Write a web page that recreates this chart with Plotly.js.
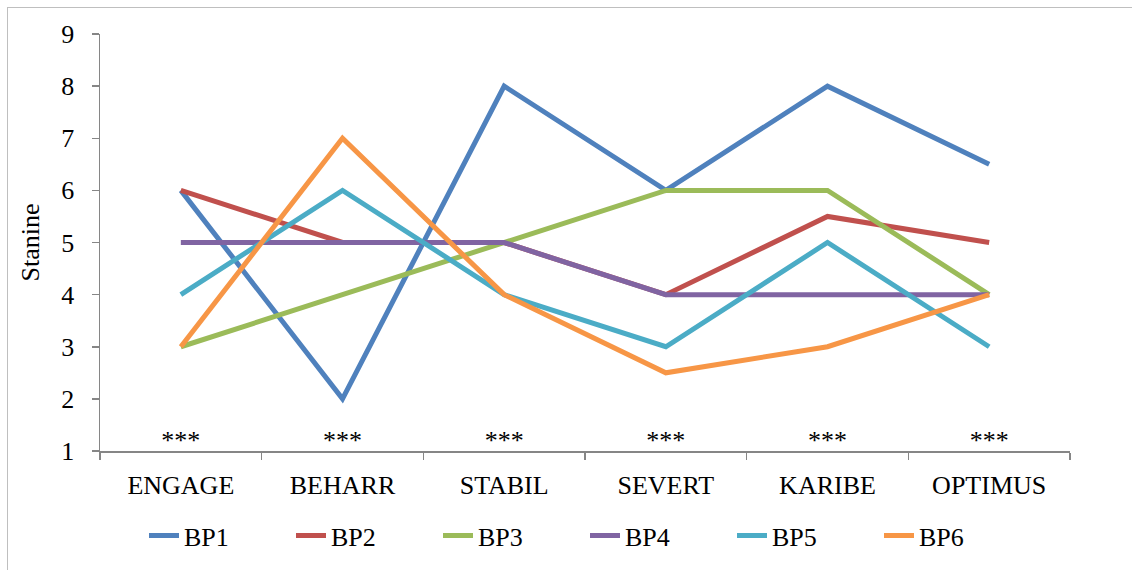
<!DOCTYPE html>
<html>
<head>
<meta charset="utf-8">
<script src="https://cdn.plot.ly/plotly-3.0.1.min.js"></script>
<style>
html,body{margin:0;padding:0;background:#fff;}
#wrap{position:relative;width:1132px;height:570px;overflow:hidden;}
#frame{position:absolute;left:7px;top:7px;width:1140px;height:580px;border:1.5px solid #bfbfbf;box-sizing:border-box;pointer-events:none;}
#chart{position:absolute;left:0;top:0;width:1132px;height:570px;}
</style>
</head>
<body>
<div id="wrap"><div id="chart"></div><div id="frame"></div></div>
<script>
var categories = ["ENGAGE", "BEHARR", "STABIL", "SEVERT", "KARIBE", "OPTIMUS"];
var BP1 = [6, 2, 8, 6, 8, 6.5];
var BP2 = [6, 5, 5, 4, 5.5, 5];
var BP3 = [3, 4, 5, 6, 6, 4];
var BP4 = [5, 5, 5, 4, 4, 4];
var BP5 = [4, 6, 4, 3, 5, 3];
var BP6 = [3, 7, 4, 2.5, 3, 4];
var seriesNames = ["BP1", "BP2", "BP3", "BP4", "BP5", "BP6"];
var starLabels = ["***", "***", "***", "***", "***", "***"];
var starLevel = [1.17, 1.17, 1.17, 1.17, 1.17, 1.17];
var yTicks = [1, 2, 3, 4, 5, 6, 7, 8, 9];

var colors = ["#4F81BD", "#C0504D", "#9BBB59", "#8064A2", "#4BACC6", "#F79646"];
var allSeries = [BP1, BP2, BP3, BP4, BP5, BP6];
var font = "Liberation Serif";

var traces = allSeries.map(function (vals, i) {
  return {
    x: categories, y: vals, type: "scatter", mode: "lines",
    name: seriesNames[i],
    line: {color: colors[i], width: 5},
    hoverinfo: "none"
  };
});
traces.push({
  x: categories, y: starLevel, text: starLabels, type: "scatter", mode: "text",
  textfont: {family: font, size: 26, color: "#000"},
  textposition: "middle center", showlegend: false, hoverinfo: "none"
});

var layout = {
  width: 1132, height: 570,
  margin: {l: 100, r: 62, t: 34, b: 118},
  paper_bgcolor: "#fff", plot_bgcolor: "#fff",
  font: {family: font, size: 21, color: "#000"},
  showlegend: true,
  legend: {
    orientation: "h", x: 0.5, xanchor: "center", y: -0.2, yanchor: "middle",
    font: {family: font, size: 26, color: "#000"},
    entrywidth: 102, entrywidthmode: "pixels"
  },
  xaxis: {
    type: "category", range: [-0.5, 5.5], tickson: "boundaries",
    ticks: "outside", ticklen: 7, tickcolor: "#868686", tickwidth: 1.5,
    showline: true, linecolor: "#868686", linewidth: 1.5,
    showgrid: false, zeroline: false, ticklabelstandoff: 10,
    tickfont: {family: font, size: 26, color: "#000"}
  },
  yaxis: {
    range: [1, 9], tickvals: yTicks, ticktext: yTicks.map(String),
    ticks: "outside", ticklen: 7, tickcolor: "#868686", tickwidth: 1.5,
    showline: true, linecolor: "#868686", linewidth: 1.5,
    showgrid: false, zeroline: false, ticklabelstandoff: 12,
    tickfont: {family: font, size: 26, color: "#000"},
    title: {text: "Stanine", font: {family: font, size: 26, color: "#000"}, standoff: 14}
  }
};
Plotly.newPlot("chart", traces, layout, {displayModeBar: false, staticPlot: true});
</script>
</body>
</html>
